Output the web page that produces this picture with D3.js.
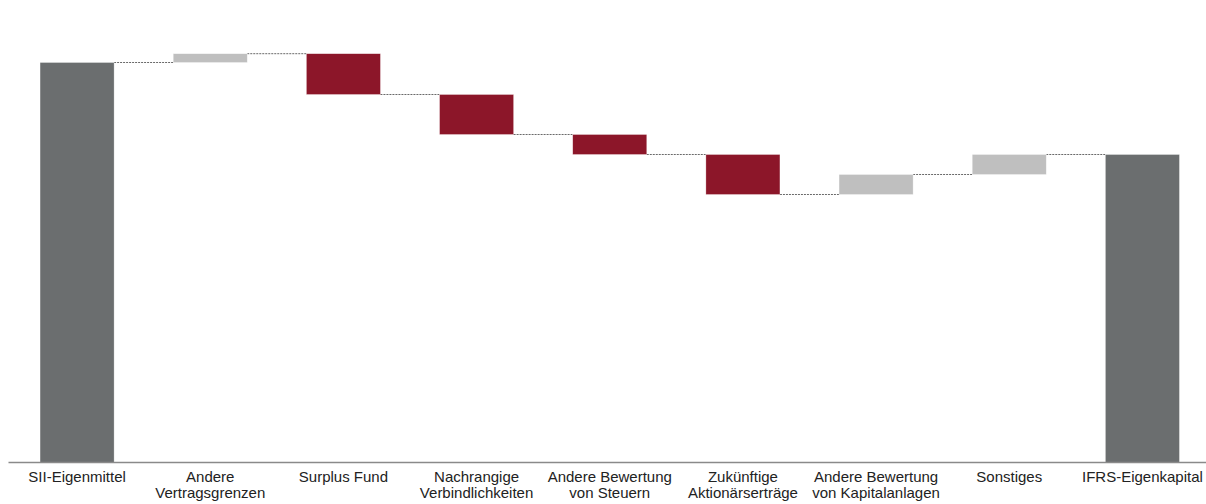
<!DOCTYPE html>
<html>
<head>
<meta charset="utf-8">
<script src="https://cdn.jsdelivr.net/npm/d3@7"></script>
<style>
  body { margin: 0; background: #fff; }
  .label { font-family: "Liberation Sans", Arial, sans-serif; font-size: 15px; fill: #222; }
</style>
</head>
<body>
<svg id="chart" width="1206" height="504"></svg>
<script>

// Categories (label lines) and step values
let categories = [
    ["SII-Eigenmittel"],
    ["Andere", "Vertragsgrenzen"],
    ["Surplus Fund"],
    ["Nachrangige", "Verbindlichkeiten"],
    ["Andere Bewertung", "von Steuern"],
    ["Zukünftige", "Aktionärserträge"],
    ["Andere Bewertung", "von Kapitalanlagen"],
    ["Sonstiges"],
    ["IFRS-Eigenkapital"]
];
let values = [100, 2.2, -10.2, -10, -5, -10, 5, 5, 77];
let kinds = ["total", "step", "step", "step", "step", "step", "step", "step", "total"];

let colors = { total: "#6b6e6f", up: "#bfbfbf", down: "#8c1629" };

let svg = d3.select("#chart");
let baseY = 462.5;

let x = d3.scaleBand()
    .domain(d3.range(categories.length))
    .range([10.5, 1209])
    .paddingInner(0.444)
    .paddingOuter(0.222);

let y = d3.scaleLinear()
    .domain([0, 100])
    .range([baseY, 62.5]);

// Compute start/end of each bar
let running = 0;
let bars = values.map(function (v, i) {
    let b;
    if (kinds[i] === "total") {
        b = { i: i, start: 0, end: v, color: colors.total };
        running = v;
    } else {
        b = { i: i, start: running, end: running + v, color: v >= 0 ? colors.up : colors.down };
        running += v;
    }
    return b;
});

// Connector lines
let connectors = bars.slice(0, -1).map(function (b, i) {
    return { x1: x(i) + x.bandwidth(), x2: x(i + 1), level: b.end };
});

svg.append("g")
    .selectAll("line")
    .data(connectors)
    .enter()
    .append("line")
    .attr("x1", d => d.x1)
    .attr("x2", d => d.x2)
    .attr("y1", d => y(d.level))
    .attr("y2", d => y(d.level))
    .attr("stroke", "#444")
    .attr("stroke-width", 0.8)
    .attr("stroke-dasharray", "2,1");

// Bars
svg.append("g")
    .selectAll("rect")
    .data(bars)
    .enter()
    .append("rect")
    .attr("x", d => x(d.i))
    .attr("width", x.bandwidth())
    .attr("y", d => y(Math.max(d.start, d.end)))
    .attr("height", d => Math.abs(y(d.start) - y(d.end)))
    .attr("fill", d => d.color)
    .attr("stroke", "#fff")
    .attr("stroke-opacity", 0.5)
    .attr("stroke-width", 0.6);

// Axis line
svg.append("line")
    .attr("x1", 8.5)
    .attr("x2", 1206)
    .attr("y1", baseY)
    .attr("y2", baseY)
    .attr("stroke", "#8a8a8a")
    .attr("stroke-width", 1.6);

// Category labels
let labels = svg.append("g")
    .selectAll("text")
    .data(categories)
    .enter()
    .append("text")
    .attr("class", "label")
    .attr("text-anchor", "middle")
    .attr("x", (d, i) => x(i) + x.bandwidth() / 2)
    .attr("y", 482);

labels.selectAll("tspan")
    .data(d => d)
    .enter()
    .append("tspan")
    .attr("x", function () { return d3.select(this.parentNode).attr("x"); })
    .attr("dy", (d, i) => i === 0 ? 0 : 15.5)
    .text(d => d);

</script>
</body>
</html>
